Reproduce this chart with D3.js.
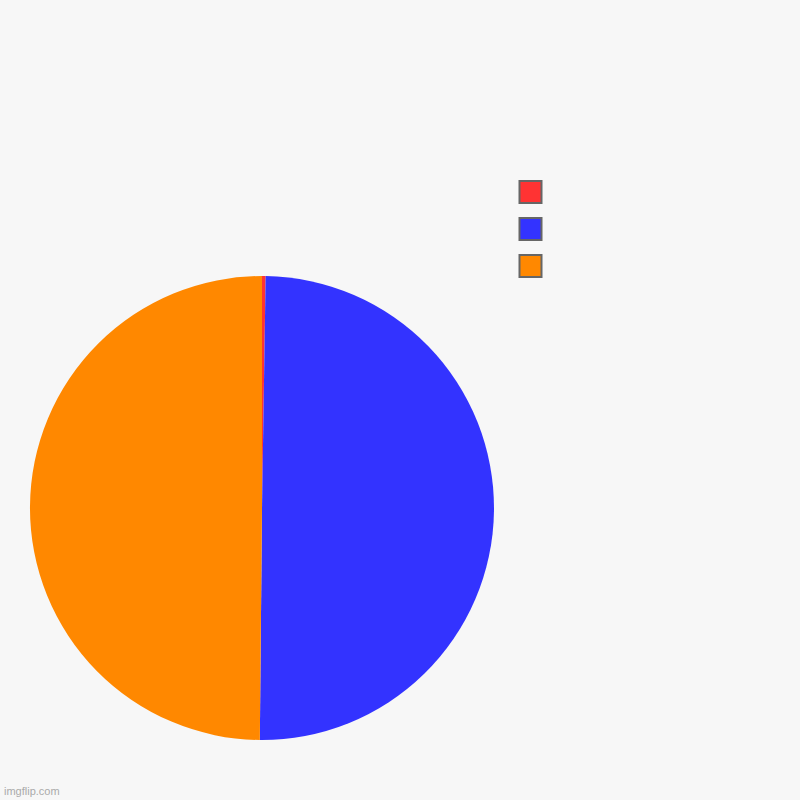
<!DOCTYPE html>
<html><head><meta charset="utf-8">
<script src="https://cdn.jsdelivr.net/npm/d3@7"></script>
<style>html,body{margin:0;padding:0;background:#f7f7f7;}</style>
</head><body>
<svg id="c" width="800" height="800"></svg>
<script>
const categories = ["", "", ""];
const values = [0.25, 49.9, 49.85];
const colors = ["#ff3333", "#3333ff", "#ff8800"];

const svg = d3.select("#c");
svg.append("rect").attr("width", 800).attr("height", 800).attr("fill", "#f7f7f7");

const cx = 262, cy = 508, r = 232;
const pie = d3.pie().sort(null).value(d => d)(values);
const arc = d3.arc().innerRadius(0).outerRadius(r);
const g = svg.append("g").attr("transform", `translate(${cx},${cy})`);
g.selectAll("path").data(pie).join("path")
  .attr("d", arc)
  .attr("fill", (d, i) => colors[i]);

const leg = svg.append("g");
leg.selectAll("rect").data(categories).join("rect")
  .attr("x", 519.5).attr("y", (d, i) => 181 + i * 37)
  .attr("width", 22).attr("height", 22)
  .attr("fill", (d, i) => colors[i])
  .attr("stroke", "#666").attr("stroke-width", 2);
leg.selectAll("text").data(categories).join("text")
  .attr("x", 550).attr("y", (d, i) => 197 + i * 37)
  .attr("font-family", "Arial, Liberation Sans, sans-serif").attr("font-size", 14)
  .text(d => d);

svg.append("text").attr("x", 4).attr("y", 795)
  .attr("font-family", "Arial, Liberation Sans, sans-serif").attr("font-size", 11)
  .attr("fill", "#aaa").text("imgflip.com");
</script>
</body></html>
